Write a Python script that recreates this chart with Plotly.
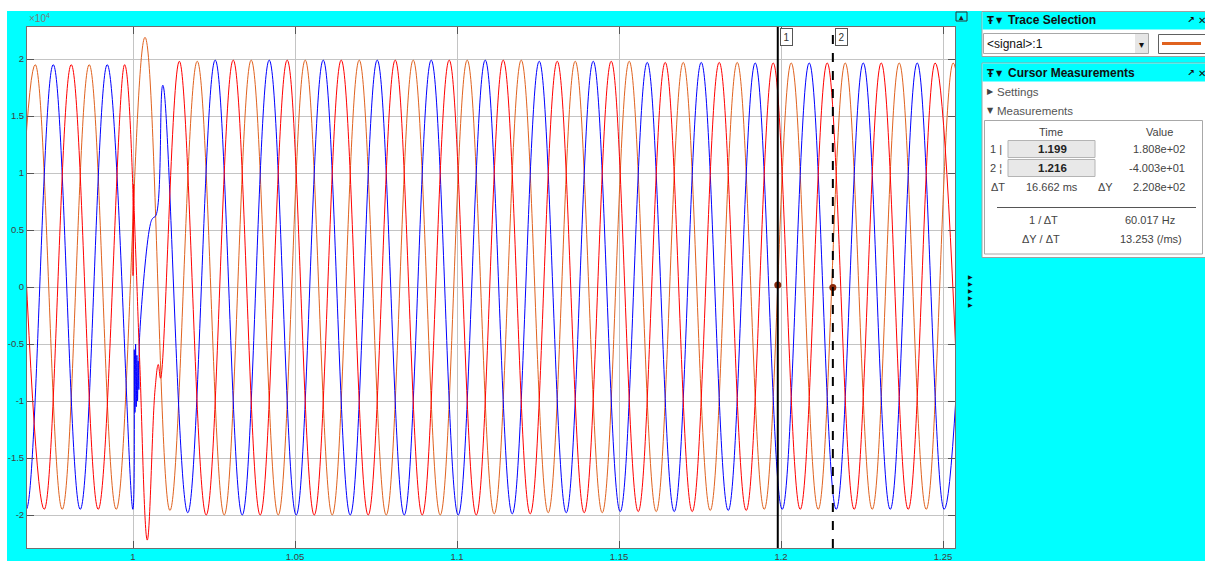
import plotly.graph_objects as go

# ---------------- data ----------------
x_tickvals = [1.0, 1.05, 1.1, 1.15, 1.2, 1.25]
x_ticktext = ["1", "1.05", "1.1", "1.15", "1.2", "1.25"]
y_tickvals = [20000, 15000, 10000, 5000, 0, -5000, -10000, -15000, -20000]
y_ticktext = ["2", "1.5", "1", "0.5", "0", "-0.5", "-1", "-1.5", "-2"]

# extremes / key points of each phase; values in units of 1e4
orange_t = [0.96149, 0.96982, 0.97815, 0.98648, 0.99482, 1.00370, 1.01140, 1.01982,
            1.02815, 1.03648, 1.04482, 1.05315, 1.06148, 1.06982, 1.07815, 1.08648,
            1.09482, 1.10315, 1.11148, 1.11982, 1.12815, 1.13648, 1.14482, 1.15315,
            1.16148, 1.16982, 1.17815, 1.18648, 1.19482, 1.20315, 1.21148, 1.21982,
            1.22815, 1.23648, 1.24482, 1.25315, 1.26148]
orange_v = [-1.95, 1.95, -1.95, 1.95, -1.95, 2.19, -1.96, 1.98,
            -2.00, 1.99, -2.00, 1.99, -2.00, 1.99, -2.00, 1.99,
            -2.00, 1.99, -1.99, 1.99, -1.98, 1.98, -1.98, 1.98,
            -1.97, 1.97, -1.96, 1.97, -1.95, 1.965, -1.95, 1.965,
            -1.95, 1.965, -1.95, 1.965, -1.95]

blue_t = [0.95871, 0.96704, 0.97538, 0.98371, 0.99204, 0.99995,
          1.0004, 1.0006, 1.0008, 1.0010, 1.0012, 1.0014, 1.0016, 1.0018, 1.0021,
          1.0052, 1.0060, 1.0071, 1.0092, 1.0169,
          1.02537, 1.03371, 1.04204, 1.05037, 1.05871, 1.06704, 1.07538, 1.08371,
          1.09204, 1.10037, 1.10871, 1.11704, 1.12538, 1.13371, 1.14204, 1.15037,
          1.15871, 1.16704, 1.17538, 1.18371, 1.19204, 1.20037, 1.20871, 1.21704,
          1.22538, 1.23371, 1.24204, 1.25037, 1.25871]
blue_v = [1.95, -1.95, 1.95, -1.95, 1.95, -1.95,
          -0.55, -1.10, -0.50, -1.05, -0.60, -1.00, -0.65, -0.90, -0.40,
          0.53, 0.60, 0.63, 1.77, -1.98,
          1.99, -2.00, 1.99, -2.00, 1.99, -2.00, 1.99, -2.00,
          1.99, -2.00, 1.99, -1.99, 1.98, -1.98, 1.98, -1.97,
          1.97, -1.97, 1.97, -1.96, 1.965, -1.95, 1.965, -1.95,
          1.965, -1.95, 1.965, -1.95, 1.965]

red_t = [0.96427, 0.97260, 0.98093, 0.98926, 0.99740,
         0.99985, 1.0000, 1.0002, 1.0004, 1.0011, 1.0021, 1.0044,
         1.0068, 1.0078, 1.0085, 1.0143,
         1.02259, 1.03093, 1.03926, 1.04759, 1.05593, 1.06426, 1.07259, 1.08093,
         1.08926, 1.09759, 1.10593, 1.11426, 1.12259, 1.13093, 1.13926, 1.14759,
         1.15593, 1.16426, 1.17259, 1.18093, 1.18926, 1.19759, 1.20593, 1.21426,
         1.22259, 1.23093, 1.23926, 1.24759, 1.25593]
red_v = [1.95, -1.95, 1.95, -1.95, 1.95,
         0.95, 0.10, 0.90, 0.65, 0.10, -0.68, -2.22,
         -0.90, -0.68, -0.80, 1.98,
         -2.00, 1.99, -2.00, 1.99, -2.00, 1.99, -2.00, 1.99,
         -2.00, 1.99, -2.00, 1.99, -1.99, 1.98, -1.98, 1.98,
         -1.97, 1.97, -1.97, 1.97, -1.96, 1.965, -1.95, 1.965,
         -1.95, 1.965, -1.95, 1.965, -1.95]

cursor_t = [1.199, 1.216]
cursor_v = [180.8, -40.03]
cursor_labels = ["1", "2"]

SCALE = 1e4

# ---------------- layout geometry ----------------
W, H = 1205, 561
L, R, T, B = 27, 955, 27, 548
CYAN = "#00ffff"
ORANGE = "#e0621f"


def fx(px):
    return (px - L) / (R - L)


def fy(py):
    return (B - py) / (B - T)


shapes = []
annotations = []


def rect(x0, y0, x1, y1, fill=None, line=None, lw=1, layer="above"):
    shapes.append(dict(type="rect", xref="paper", yref="paper",
                       x0=fx(x0), x1=fx(x1), y0=fy(y1), y1=fy(y0),
                       fillcolor=fill if fill else "rgba(0,0,0,0)",
                       line=dict(color=line if line else "rgba(0,0,0,0)",
                                 width=lw if line else 0),
                       layer=layer))


def hline(x0, x1, y, color, width=1):
    shapes.append(dict(type="line", xref="paper", yref="paper",
                       x0=fx(x0), x1=fx(x1), y0=fy(y), y1=fy(y),
                       line=dict(color=color, width=width)))


def text(px, py, s, size=11, color="#333333", anchor="left", bold=False,
         family="Liberation Sans, Arial, sans-serif"):
    if bold:
        s = "<b>" + s + "</b>"
    annotations.append(dict(xref="paper", yref="paper", x=fx(px), y=fy(py),
                            text=s, showarrow=False, xanchor=anchor,
                            yanchor="middle",
                            font=dict(size=size, color=color, family=family)))


fig = go.Figure()

for t, v, c in [(orange_t, orange_v, ORANGE), (blue_t, blue_v, "#0000ff"),
                (red_t, red_v, "#ff0000")]:
    fig.add_trace(go.Scatter(x=t, y=[a * SCALE for a in v], mode="lines",
                             line=dict(color=c, width=1, shape="spline",
                                       smoothing=1.1),
                             hoverinfo="skip", showlegend=False))

# cursor lines
for i, (ct, dash) in enumerate(zip(cursor_t, ["solid", "dash"])):
    shapes.append(dict(type="line", xref="x", yref="paper", x0=ct, x1=ct,
                       y0=0, y1=1, line=dict(color="black", width=2, dash=dash),
                       layer="above"))
    annotations.append(dict(xref="x", yref="paper", x=ct, y=fy(28),
                            text=cursor_labels[i], showarrow=False,
                            xanchor="left", yanchor="top", xshift=2,
                            bgcolor="white", bordercolor="#555555",
                            borderwidth=1, borderpad=1, width=9, height=14,
                            font=dict(size=10, color="#333333",
                                      family="Liberation Sans, Arial")))

fig.add_trace(go.Scatter(x=cursor_t, y=cursor_v, mode="markers",
                         marker=dict(color="#8b2a0a", size=7),
                         hoverinfo="skip", showlegend=False))

# white strips of the screenshot
rect(0, 0, W, 11, fill="white", layer="below")
rect(0, 0, 7, H, fill="white", layer="below")

# x10^4 label
annotations.append(dict(xref="paper", yref="paper", x=fx(27), y=fy(18),
                        text="×10<sup>4</sup>", showarrow=False,
                        xanchor="left", yanchor="middle",
                        font=dict(size=10, color="#7a7a7a",
                                  family="Liberation Sans, Arial")))

# undock icon and arrows
rect(956, 12, 967, 21, fill=CYAN, line="#333333")
text(961.5, 16.8, "▴", size=9, color="#222222", anchor="center",
     family="DejaVu Sans")
for py in [276, 283, 290, 297, 304]:
    text(971, py, "▶", size=6, color="#111111", anchor="center",
         family="DejaVu Sans")

# ---- Trace Selection panel ----
rect(982, 11.5, 1207, 56.5, fill="white", line="#a0a0a0")
rect(982.5, 12, 1207, 29.5, fill=CYAN)
text(985, 20.5, "Ŧ", size=10, color="#111111", bold=True, family="DejaVu Sans")
text(994, 20.5, "▼", size=8, color="#111111", family="DejaVu Sans")
text(1006, 20.5, "Trace Selection", size=12, color="#111111", bold=True)
text(1185, 20.5, "↗", size=9, color="#111111", bold=True, family="DejaVu Sans")
text(1196, 20.5, "✕", size=10, color="#111111", bold=True, family="DejaVu Sans")
rect(983.5, 33.5, 1148.5, 53.5, fill="white", line="#a8a8a8")
rect(1135, 34, 1148, 53, fill="#e6e6e6")
text(1141.5, 44, "▾", size=10, color="#111111", anchor="center",
     family="DejaVu Sans")
text(985, 43.5, "&lt;signal&gt;:1", size=12, color="#111111")
rect(1158.5, 34.5, 1207, 53.5, fill="white", line="#606060")
hline(1162, 1201, 43.5, ORANGE, width=3)

# ---- Cursor Measurements panel ----
rect(982, 63, 1207, 257.5, fill="white", line="#a0a0a0")
rect(982.5, 63.5, 1207, 81.5, fill=CYAN)
text(985, 73, "Ŧ", size=10, color="#111111", bold=True, family="DejaVu Sans")
text(994, 73, "▼", size=8, color="#111111", family="DejaVu Sans")
text(1006, 73, "Cursor Measurements", size=12, color="#111111", bold=True)
text(1185, 73, "↗", size=9, color="#111111", bold=True, family="DejaVu Sans")
text(1196, 73, "✕", size=10, color="#111111", bold=True, family="DejaVu Sans")
text(985, 91.5, "▶", size=8, color="#444444", family="DejaVu Sans")
text(995, 91.5, "Settings", size=11.5, color="#555555")
text(985, 110.5, "▼", size=8, color="#444444", family="DejaVu Sans")
text(995, 110.5, "Measurements", size=11.5, color="#555555")
rect(984.5, 120.5, 1202.5, 254, fill="white", line="#a8a8a8")

text(1051, 131.5, "Time", size=11, color="#444444", anchor="center")
text(1159, 131.5, "Value", size=11, color="#444444", anchor="center")
rect(1008, 140.5, 1095, 157.5, fill="#e8e8e8", line="#b4b4b4")
rect(1008, 159.5, 1095, 176.5, fill="#e8e8e8", line="#b4b4b4")
text(988, 149, "1 |", size=11, color="#444444")
text(988, 168, "2 ¦", size=11, color="#444444")
text(1052, 149, "%.3f" % cursor_t[0], size=11.5, color="#222222",
     anchor="center", bold=True)
text(1052, 168, "%.3f" % cursor_t[1], size=11.5, color="#222222",
     anchor="center", bold=True)
text(1187, 149, "%.3e" % cursor_v[0], size=11, color="#444444", anchor="right")
text(1187, 168, "%.3e" % cursor_v[1], size=11, color="#444444", anchor="right")
text(998, 187, "ΔT", size=11, color="#444444", anchor="center")
text(1052, 187, "16.662 ms", size=11, color="#444444", anchor="center")
text(1105, 187, "ΔY", size=11, color="#444444", anchor="center")
text(1187, 187, "2.208e+02", size=11, color="#444444", anchor="right")
hline(997, 1196, 207.5, "#555555")
text(1043.5, 219.5, "1 / ΔT", size=11, color="#444444", anchor="center")
text(1150, 219.5, "60.017 Hz", size=11, color="#444444", anchor="center")
text(1041, 238.5, "ΔY / ΔT", size=11, color="#444444", anchor="center")
text(1150.5, 238.5, "13.253 (/ms)", size=11, color="#444444", anchor="center")

axis_common = dict(showgrid=True, gridcolor="#c4c4c4", gridwidth=1,
                   zeroline=False, showline=True, linecolor="#707070",
                   linewidth=1, mirror="ticks", ticks="inside", ticklen=7,
                   tickcolor="#555555", tickwidth=1, automargin=False,
                   tickfont=dict(size=9.5, color="#404040",
                                 family="Liberation Sans, Arial"),
                   fixedrange=True)

fig.update_layout(
    width=W, height=H,
    margin=dict(l=L, r=W - R, t=T, b=H - B, pad=0, autoexpand=False),
    paper_bgcolor=CYAN, plot_bgcolor="white",
    showlegend=False, hovermode=False,
    xaxis=dict(range=[0.96728, 1.25370], tickvals=x_tickvals,
               ticktext=x_ticktext, **axis_common),
    yaxis=dict(range=[-22895, 22807], tickvals=y_tickvals,
               ticktext=y_ticktext, **axis_common),
    shapes=shapes, annotations=annotations,
)

fig.write_html("out.html")
